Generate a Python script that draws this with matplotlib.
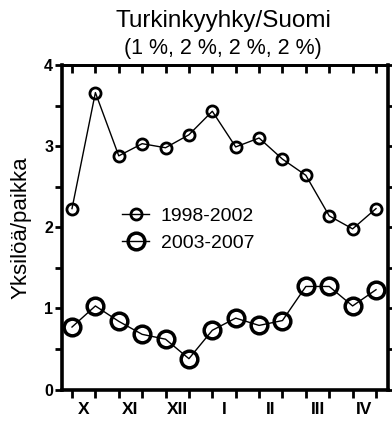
import matplotlib
matplotlib.use("Agg")
import matplotlib.pyplot as plt
from matplotlib.ticker import MultipleLocator, FixedLocator, NullFormatter

plt.rcParams['font.family'] = ['Liberation Sans', 'DejaVu Sans']

# Half-month counting periods, October to April
periods = list(range(14))
months = ["X", "XI", "XII", "I", "II", "III", "IV"]
series_1998_2002 = [2.23, 3.66, 2.88, 3.03, 2.98, 3.14, 3.43, 2.99, 3.10, 2.84, 2.64, 2.14, 1.98, 2.23]
series_2003_2007 = [0.77, 1.03, 0.84, 0.68, 0.62, 0.38, 0.73, 0.88, 0.79, 0.85, 1.27, 1.27, 1.03, 1.23]
labels = ["1998-2002", "2003-2007"]
title = "Turkinkyyhky/Suomi"
subtitle = "(1 %, 2 %, 2 %, 2 %)"
ylabel = "Yksilöä/paikka"

W, H = 392, 421
fig = plt.figure(figsize=(W / 100, H / 100), dpi=100)
ax = fig.add_axes([61.5 / W, 1 - 389.5 / H, (388 - 61.5) / W, (389.5 - 65) / H])

ax.plot(periods, series_1998_2002, color="black", lw=1.0, marker="o", ms=8,
        mfc="none", mec="black", mew=2.0, label=labels[0])
ax.plot(periods, series_2003_2007, color="black", lw=1.0, marker="o", ms=12,
        mfc="none", mec="black", mew=2.5, label=labels[1])

step = (376 - 72) / 13
ax.set_xlim((61.5 - 72) / step, (388 - 72) / step)
ax.set_ylim(0, 4)

# Spines
ax.spines["left"].set_linewidth(2.6)
ax.spines["bottom"].set_linewidth(2.6)
ax.spines["top"].set_linewidth(2.0)
ax.spines["right"].set_linewidth(2.6)

# y axis: labelled integers, minor half-steps; ticks on both sides, outward
ax.yaxis.set_major_locator(MultipleLocator(1))
ax.yaxis.set_minor_locator(MultipleLocator(0.5))
ax.tick_params(axis="y", which="both", direction="out", left=True, right=True,
               length=5, width=2.0, labelsize=11.5, pad=1)
for t in ax.get_yticklabels():
    t.set_fontweight("bold")

# x axis: period ticks (outward at bottom, inward at top), month names between
ax.xaxis.set_major_locator(FixedLocator([p + 0.5 for p in periods[::2]]))
ax.set_xticklabels(months, fontsize=12.5, fontweight="bold")
ax.xaxis.set_minor_locator(FixedLocator(periods))
ax.tick_params(axis="x", which="major", length=0, pad=9)
ax.tick_params(axis="x", which="minor", bottom=True, top=False, direction="out",
               length=6, width=2.0)

top = ax.secondary_xaxis("top")
top.set_xticks(periods)
top.xaxis.set_major_formatter(NullFormatter())
top.tick_params(direction="in", length=6, width=2.0)
top.spines["top"].set_linewidth(2.0)

ax.set_ylabel(ylabel, fontsize=16, labelpad=9)

fig.text(223 / W, 1 - 21 / H, title, ha="center", va="center", fontsize=17.5)
fig.text(223 / W, 1 - 48.5 / H, subtitle, ha="center", va="center", fontsize=15.5)

ax.legend(loc="upper left", bbox_to_anchor=((122 - 61.5) / (388 - 61.5), (389.5 - 207) / (389.5 - 65)),
          frameon=False, fontsize=14, borderpad=0, borderaxespad=0,
          handlelength=1.4, handletextpad=0.6, labelspacing=0.5)

fig.savefig("out.png", dpi=100)
